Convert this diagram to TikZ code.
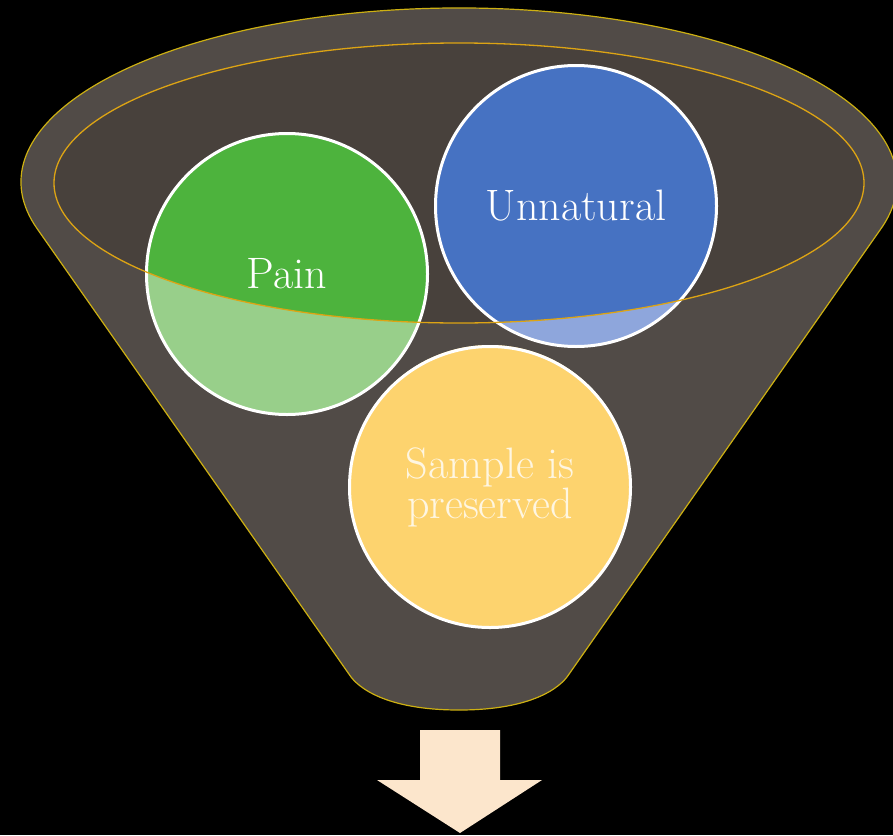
\documentclass[tikz,border=0pt]{standalone}
\definecolor{funnelband}{HTML}{514B47}
\definecolor{funnelin}{HTML}{48413C}
\definecolor{rimline}{HTML}{DDA414}
\definecolor{edgeline}{HTML}{CDB012}
\definecolor{greenA}{HTML}{4DB33D}
\definecolor{greenB}{HTML}{98CF8A}
\definecolor{blueA}{HTML}{4672C2}
\definecolor{blueB}{HTML}{8EA6DC}
\definecolor{yellowB}{HTML}{FDD36E}
\definecolor{arrowfill}{HTML}{FCE6CC}
\begin{document}
\begin{tikzpicture}[x=1pt,y=-1pt,
  ball/.style={circle, draw=white, line width=3pt, minimum size=281pt, inner sep=0pt,
    text=white, font=\fontsize{44}{40}\selectfont, align=center},
  funnelshape/.style={fill=funnelband, draw=edgeline, line width=1.2pt},
  rim/.style={draw=rimline, line width=1.3pt}]
\fill[black] (0,0) rectangle (893,835);
\useasboundingbox (0,0) rectangle (893,835);
% funnel body
\coordinate (lt) at (37,228.5);
\coordinate (rt) at (881,228.5);
\coordinate (rb) at (568.4,675);
\coordinate (bot) at (459,710);
\coordinate (lb) at (349.6,675);
\path[funnelshape] (lt) arc[start angle=195.5, end angle=-15.5, x radius=438pt, y radius=174pt]
  -- (rb) .. controls (560.5,687) and (533,710) .. (bot)
  .. controls (385,710) and (357.5,687) .. (lb) -- cycle;
% inner opening
\fill[funnelin] (459,183) ellipse[x radius=405pt, y radius=140pt];
% circle fills (light below rim, saturated inside rim)
\fill[greenB] (287,274) circle[radius=141pt];
\fill[blueB] (576,206) circle[radius=141pt];
\fill[yellowB] (490,486) circle[radius=141pt];
\begin{scope}
  \clip (459,183) ellipse[x radius=405pt, y radius=140pt];
  \fill[greenA] (287,274) circle[radius=141pt];
  \fill[blueA] (576,206) circle[radius=141pt];
\end{scope}
% circles with labels
\node[ball] (pain) at (287,274) {Pain};
\node[ball] (unnat) at (576,206) {Unnatural};
\node[ball, text opacity=0.8] (sample) at (490,487) {Sample is\\preserved};
% rim outline
\draw[rim] (459,183) ellipse[x radius=405pt, y radius=140pt];
% down arrow
\fill[arrowfill] (420,730) -- (500,730) -- (500,780) -- (542,780) -- (460,833)
  -- (377,780) -- (420,780) -- cycle;
\end{tikzpicture}
\end{document}
